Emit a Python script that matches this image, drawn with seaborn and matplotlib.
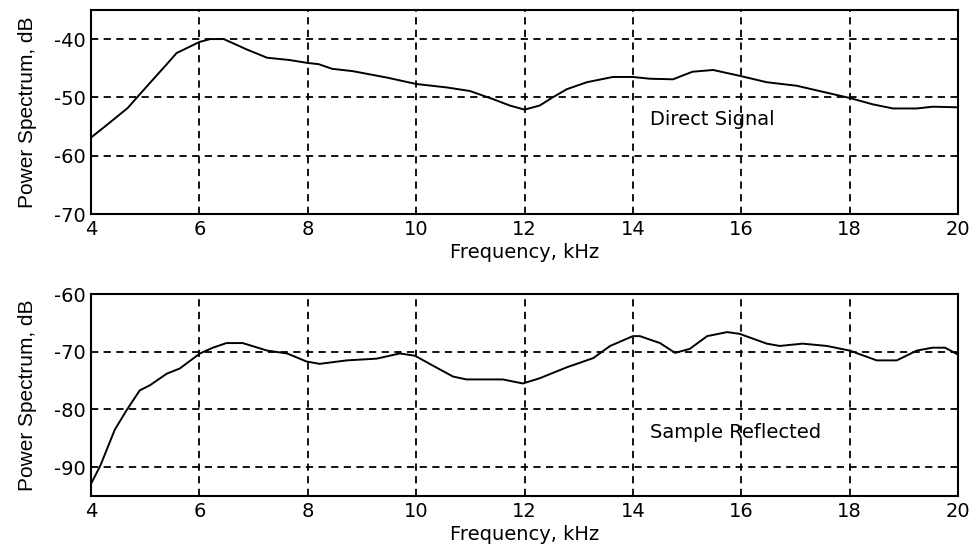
import numpy as np
import pandas as pd
import matplotlib
matplotlib.use("Agg")
import matplotlib.pyplot as plt
import seaborn as sns

# Direct signal (top panel)
direct_freq = [4.0, 4.35, 4.68, 4.85, 5.09, 5.4, 5.58, 6.0, 6.2, 6.45, 6.88, 7.25,
               7.67, 8.0, 8.2, 8.45, 8.83, 9.46, 10.0, 10.57, 10.99, 11.42, 11.73,
               12.0, 12.28, 12.52, 12.78, 13.15, 13.63, 14.0, 14.31, 14.74, 15.1,
               15.48, 15.97, 16.47, 17.02, 17.58, 18.0, 18.43, 18.8, 19.24, 19.53, 20.0]
direct_db = [-56.9, -54.3, -51.8, -50.0, -47.5, -44.3, -42.4, -40.5, -40.0, -40.0,
             -41.8, -43.2, -43.6, -44.1, -44.3, -45.1, -45.5, -46.6, -47.7, -48.3,
             -48.9, -50.3, -51.4, -52.1, -51.4, -50.0, -48.6, -47.4, -46.5, -46.5,
             -46.8, -46.9, -45.6, -45.3, -46.3, -47.4, -48.0, -49.2, -50.1, -51.2,
             -51.9, -51.9, -51.6, -51.7]

# Sample reflected (bottom panel)
refl_freq = [4.0, 4.17, 4.44, 4.66, 4.9, 5.09, 5.4, 5.64, 6.01, 6.25, 6.5, 6.8, 7.25,
             7.62, 7.98, 8.22, 8.72, 9.27, 9.7, 9.98, 10.25, 10.68, 10.93, 11.6,
             11.97, 12.28, 12.78, 13.27, 13.58, 14.0, 14.13, 14.5, 14.78, 15.05,
             15.37, 15.74, 15.97, 16.47, 16.71, 17.13, 17.58, 18.0, 18.5, 18.87,
             19.24, 19.53, 19.76, 20.0]
refl_db = [-92.9, -89.8, -83.5, -80.1, -76.7, -75.8, -73.8, -72.9, -70.3, -69.3,
           -68.5, -68.5, -69.8, -70.3, -71.7, -72.1, -71.5, -71.2, -70.3, -70.7,
           -72.1, -74.3, -74.8, -74.8, -75.5, -74.6, -72.7, -71.1, -69.0, -67.3,
           -67.3, -68.5, -70.2, -69.5, -67.3, -66.6, -66.9, -68.6, -69.0, -68.6,
           -69.0, -69.8, -71.5, -71.5, -69.8, -69.3, -69.3, -70.5]

x_ticks = [4, 6, 8, 10, 12, 14, 16, 18, 20]
top_yticks = [-70, -60, -50, -40]
bottom_yticks = [-90, -80, -70, -60]

sns.set_style("white")
plt.rcParams['font.family'] = ['DejaVu Sans']
plt.rcParams['axes.unicode_minus'] = False
plt.rcParams['text.color'] = 'black'
plt.rcParams['axes.labelcolor'] = 'black'
plt.rcParams['xtick.color'] = 'black'
plt.rcParams['ytick.color'] = 'black'

fig = plt.figure(figsize=(9.75, 5.51), dpi=100)
ax1 = fig.add_axes([0.0933, 0.6116, 0.8893, 0.3704])
ax2 = fig.add_axes([0.0933, 0.0998, 0.8893, 0.3666])

panels = [
    (ax1, direct_freq, direct_db, top_yticks, (-70, -35), "Direct Signal", -53.8),
    (ax2, refl_freq, refl_db, bottom_yticks, (-95, -60), "Sample Reflected", -84.0),
]

for ax, fx, fy, yt, ylim, label, ly in panels:
    df = pd.DataFrame({"freq": fx, "db": fy})
    sns.lineplot(data=df, x="freq", y="db", ax=ax, color="black", linewidth=1.4)
    ax.set_xlim(4, 20)
    ax.set_ylim(*ylim)
    ax.set_xticks(x_ticks)
    ax.set_yticks(yt)
    ax.grid(True, color="black", linestyle=(0, (4, 3)), linewidth=1.3)
    for s in ax.spines.values():
        s.set_color("black")
        s.set_linewidth(1.5)
    ax.tick_params(axis="both", labelsize=14, length=3, direction="in",
                   color="black", pad=4)
    ax.set_xlabel("Frequency, kHz", fontsize=14, labelpad=3)
    ax.set_ylabel("Power Spectrum, dB", fontsize=15,
                  family=['Liberation Sans Narrow', 'Liberation Sans'], labelpad=12)
    ax.text(14.31, ly, label, fontsize=14, va="center", ha="left")

fig.savefig("out.png", dpi=100)
